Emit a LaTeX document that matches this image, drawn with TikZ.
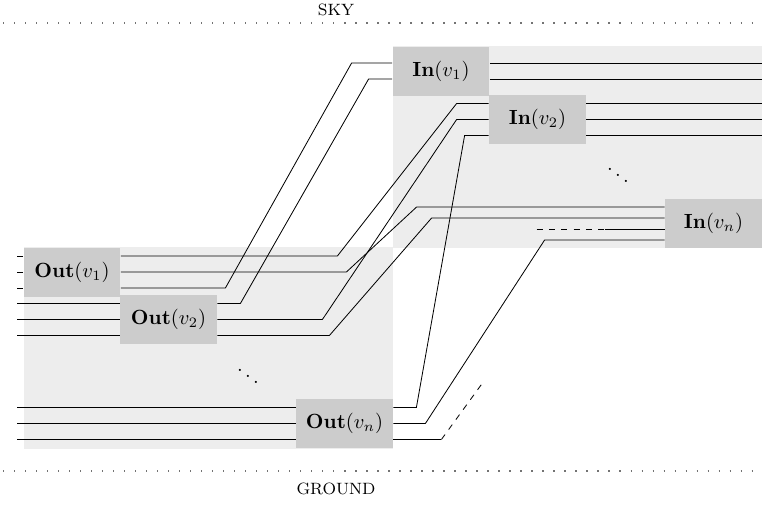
\documentclass[tikz,border=0pt]{standalone}
\usepackage{tikz}
\usetikzlibrary{calc,positioning,backgrounds}

\begin{document}
\begin{tikzpicture}[x=0.4878pt, y=-0.4878pt,
	caja/.style={fill=black!20, minimum width=47.3pt, minimum height=23.9pt, inner sep=0pt},
	zona/.style={fill=black!7},
	borde/.style={black!55, line width=1.2pt, dash pattern=on 0.6pt off 4.77pt},
	rotulo/.style={font=\footnotesize}]
\useasboundingbox (0,0) rectangle (762,504);
% zonas de fondo
\fill[zona] (23.5,247) rectangle (393,449);
\fill[zona] (392.5,46) rectangle (762,248);
% cielo y suelo
\node[rotulo] (sky) at (336,10) {SKY};
\node[rotulo] (ground) at (336,489) {GROUND};
\draw[borde] (3,23) -- (762,23);
\draw[borde] (3,471) -- (762,471);
% cajas
\node[caja] (ov1) at (72,272) {\textbf{Out}$(v_1)$};
\node[caja] (ov2) at (168.5,319.5) {\textbf{Out}$(v_2)$};
\node[caja] (ovn) at (344.5,423.5) {\textbf{Out}$(v_n)$};
\node[caja] (iv1) at (441,71) {\textbf{In}$(v_1)$};
\node[caja] (iv2) at (537.5,119.5) {\textbf{In}$(v_2)$};
\node[caja] (ivn) at (713.5,223.5) {\textbf{In}$(v_n)$};
\node (pto1) at (618,169) {$\ddots$};
\node (pto2) at (248,370) {$\ddots$};
% cabos sueltos
\foreach \d in {-16,0,16}{
	\draw ($(ov1.west)+(0,\d)$) -- ++(-6.5,0);
	\draw ($(ov2.west)+(0,\d)$) -- ++(-103,0);
	\draw ($(ovn.west)+(0,\d)$) -- ++(-279,0);
	\draw ($(iv2.east)+(0,\d)$) -- ++(176,0);
}
\foreach \d in {-8,8}
	\draw ($(iv1.east)+(0,\d)$) -- ++(272.5,0);
\foreach \d in {-16.5,-5.5,5.5,16.5}
	\draw ($(ivn.east)+(0,\d)$) -- ++(7,0);
% aristas
\draw ($(ov1.east)+(0,-16)$) -- ++(216.5,0) -- ($(iv2.west)+(-32,-16)$) -- ($(iv2.west)+(0,-16)$);
\draw ($(ov1.east)+(0,0)$) -- ++(225.5,0) -- ($(ivn.west)+(-248,-16.5)$) -- ($(ivn.west)+(0,-16.5)$);
\draw ($(ov1.east)+(0,16)$) -- ++(104.5,0) -- ($(iv1.west)+(-40.5,-8)$) -- ($(iv1.west)+(0,-8)$);
\draw ($(ov2.east)+(0,-16)$) -- ++(23,0) -- ($(iv1.west)+(-23.5,8)$) -- ($(iv1.west)+(0,8)$);
\draw ($(ov2.east)+(0,0)$) -- ++(105,0) -- ($(iv2.west)+(-32,0)$) -- ($(iv2.west)+(0,0)$);
\draw ($(ov2.east)+(0,16)$) -- ++(112,0) -- ($(ivn.west)+(-233,-5.5)$) -- ($(ivn.west)+(0,-5.5)$);
\draw ($(ovn.east)+(0,-16)$) -- ++(23,0) -- ($(iv2.west)+(-24,16)$) -- ($(iv2.west)+(0,16)$);
\draw ($(ovn.east)+(0,0)$) -- ++(32,0) -- ($(ivn.west)+(-120,16.5)$) -- ($(ivn.west)+(0,16.5)$);
\draw ($(ovn.east)+(0,16)$) -- ++(48,0) coordinate (cola);
\draw[dashed] (cola) -- ++(40,-55);
\draw[dashed] ($(ivn.west)+(-128,5.5)$) -- ++(68,0) coordinate (cabo);
\draw (cabo) -- ($(ivn.west)+(0,5.5)$);
\end{tikzpicture}
\end{document}
